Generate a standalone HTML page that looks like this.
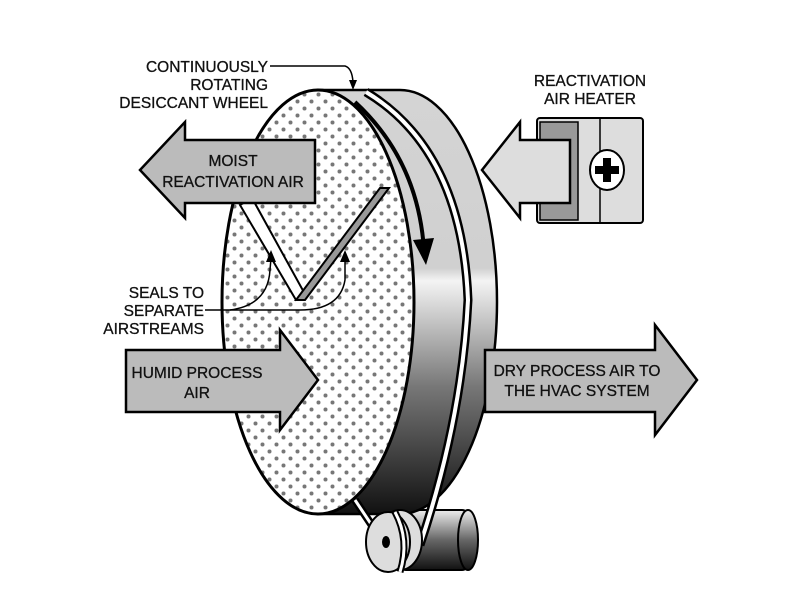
<!DOCTYPE html>
<html><head><meta charset="utf-8"><style>
html,body{margin:0;padding:0;background:#fff}
svg{display:block}
text{font-family:"Liberation Sans",Arial,sans-serif;font-size:15.5px;fill:#111;stroke:#111;stroke-width:0.3}
</style></head><body>
<svg width="792" height="612" viewBox="0 0 792 612" xmlns="http://www.w3.org/2000/svg">
<defs>
<pattern id="dots" width="14" height="14" patternUnits="userSpaceOnUse">
<rect width="14" height="14" fill="#fff"/><circle cx="3.5" cy="3.5" r="2" fill="#777"/><circle cx="10.5" cy="10.5" r="2" fill="#777"/>
</pattern>
<linearGradient id="rim" x1="0" y1="0" x2="0" y2="1">
<stop offset="0" stop-color="#d4d4d4"/><stop offset="0.42" stop-color="#d0d0d0"/><stop offset="0.45" stop-color="#f4f4f4"/><stop offset="0.7" stop-color="#777"/><stop offset="1" stop-color="#111"/>
</linearGradient>
<linearGradient id="mot" x1="0" y1="0" x2="0" y2="1">
<stop offset="0" stop-color="#eee"/><stop offset="0.5" stop-color="#666"/><stop offset="1" stop-color="#111"/>
</linearGradient>
</defs>
<rect x="400" y="510" width="68" height="60" rx="6" fill="url(#mot)" stroke="#000" stroke-width="2"/>
<ellipse cx="468" cy="540" rx="10" ry="30" fill="url(#mot)" stroke="#000" stroke-width="2"/>
<path d="M318 90 L400 90 A97 212 0 0 1 400 514 L318 514 Z" fill="url(#rim)" stroke="#000" stroke-width="2.5"/>
<path d="M366 92 Q462 150 468 300 Q462 420 420 545" fill="none" stroke="#000" stroke-width="9"/>
<path d="M366 92 Q462 150 468 300 Q462 420 420 545" fill="none" stroke="#fff" stroke-width="4"/>
<path d="M355 500 L385 545" stroke="#000" stroke-width="8"/>
<path d="M355 500 L385 545" stroke="#fff" stroke-width="3"/>
<ellipse cx="400" cy="540" rx="22" ry="30" fill="#ddd" stroke="#000" stroke-width="2"/>
<ellipse cx="388" cy="542" rx="22" ry="30" fill="#ddd" stroke="#000" stroke-width="2"/>
<ellipse cx="386" cy="542" rx="4" ry="6" fill="#000"/>
<path d="M395 512 Q410 540 400 572" fill="none" stroke="#000" stroke-width="7"/>
<path d="M395 512 Q410 540 400 572" fill="none" stroke="#fff" stroke-width="3"/>
<ellipse cx="318" cy="302" rx="96" ry="212" fill="url(#dots)" stroke="#000" stroke-width="3"/>
<path d="M355 102 Q418 160 424 250" fill="none" stroke="#000" stroke-width="4"/>
<path d="M413 240 L426 265 L434 238 Z" fill="#000"/>
<path d="M240 205 L252 198 L306 296 L296 300 Z" fill="#fff" stroke="#000" stroke-width="2"/>
<path d="M296 300 L380 188 L389 188 L305 300 Z" fill="#999" stroke="#000" stroke-width="2"/>
<path d="M205 310 L300 310 Q340 310 345 280 L345 258" fill="none" stroke="#000" stroke-width="1.5"/>
<path d="M230 310 Q268 305 270 270 L271 258" fill="none" stroke="#000" stroke-width="1.5"/>
<path d="M266 262 L271 250 L276 262 Z" fill="#000"/>
<path d="M340 262 L345 250 L350 262 Z" fill="#000"/>
<path d="M270 66 L345 66 Q352 68 353 82" fill="none" stroke="#000" stroke-width="1.5"/>
<path d="M349 80 L353 90 L357 80 Z" fill="#000"/>
<path d="M315 140 L185 140 L185 122 L140 170 L185 218 L185 203 L315 203 Z" fill="#bbb" stroke="#000" stroke-width="2.5"/>
<path d="M126 350 L280 350 L280 330 L318 380 L280 430 L280 412 L126 412 Z" fill="#bbb" stroke="#000" stroke-width="2.5"/>
<path d="M485 350 L655 350 L655 325 L697 380 L655 435 L655 412 L485 412 Z" fill="#bbb" stroke="#000" stroke-width="2.5"/>
<rect x="537" y="118" width="106" height="105" rx="3" fill="#ddd" stroke="#000" stroke-width="2"/>
<rect x="540" y="122" width="38" height="98" fill="#999" stroke="#000" stroke-width="1.5"/>
<line x1="600" y1="118" x2="600" y2="223" stroke="#000" stroke-width="1.5"/>
<ellipse cx="607" cy="170" rx="17" ry="20" fill="#fff" stroke="#000" stroke-width="2"/>
<path d="M603 158 h8 v8 h8 v8 h-8 v8 h-8 v-8 h-8 v-8 h8 Z" fill="#000"/>
<path d="M570 140 L520 140 L520 122 L482 170 L520 218 L520 203 L570 203 Z" fill="#ddd" stroke="#000" stroke-width="2.5"/>
<text x="268" y="72" text-anchor="end">CONTINUOUSLY</text>
<text x="268" y="90" text-anchor="end">ROTATING</text>
<text x="268" y="108" text-anchor="end">DESICCANT WHEEL</text>
<text x="590" y="86" text-anchor="middle">REACTIVATION</text>
<text x="590" y="104" text-anchor="middle">AIR HEATER</text>
<text x="233" y="166" text-anchor="middle">MOIST</text>
<text x="233" y="187" text-anchor="middle">REACTIVATION AIR</text>
<text x="204" y="298" text-anchor="end">SEALS TO</text>
<text x="204" y="316" text-anchor="end">SEPARATE</text>
<text x="204" y="334" text-anchor="end">AIRSTREAMS</text>
<text x="197" y="378" text-anchor="middle">HUMID PROCESS</text>
<text x="197" y="398" text-anchor="middle">AIR</text>
<text x="577" y="376" text-anchor="middle">DRY PROCESS AIR TO</text>
<text x="577" y="396" text-anchor="middle">THE HVAC SYSTEM</text>
</svg>
</body></html>
